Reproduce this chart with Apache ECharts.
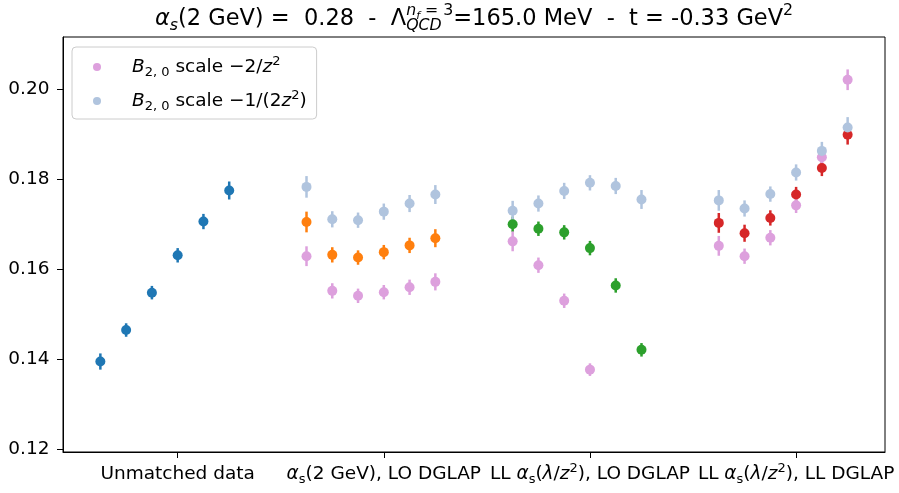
<!DOCTYPE html>
<html>
<head>
<meta charset="utf-8">
<script src="https://cdn.jsdelivr.net/npm/echarts@6/dist/echarts.min.js"></script>
<style>
html,body{margin:0;padding:0;background:#fff;}
#chart{width:899px;height:493px;}
</style>
</head>
<body>
<div id="chart"></div>
<script>
// ---------------- data ----------------
const categoryLabels = [
  'Unmatched data',
  '{i|α}{sub|s}(2 GeV), LO DGLAP',
  'LL {i|α}{sub|s}({i|λ}/{i|z}{sup|2}), LO DGLAP',
  'LL {i|α}{sub|s}({i|λ}/{i|z}{sup|2}), LL DGLAP'
];
const yTickValues = [0.12, 0.14, 0.16, 0.18, 0.20];
const pointOffsets = [-3, -2, -1, 0, 1, 2];
const groupSpacing = 8;

// main series (one per category group)
const unmatched      = [0.1395, 0.1465, 0.1548, 0.1631, 0.1706, 0.1775];
const unmatchedErr   = [0.0018, 0.0015, 0.0015, 0.0016, 0.0017, 0.0020];
const alphaLO        = [0.1705, 0.1632, 0.1626, 0.1638, 0.1653, 0.1669];
const alphaLOErr     = [0.0023, 0.0017, 0.0016, 0.0016, 0.0017, 0.0020];
const llLO           = [0.1700, 0.1690, 0.1682, 0.1647, 0.1564, 0.1421];
const llLOErr        = [0.0017, 0.0016, 0.0016, 0.0016, 0.0016, 0.0015];
const llLL           = [0.1703, 0.1680, 0.1714, 0.1766, 0.1825, 0.1899];
const llLLErr        = [0.0022, 0.0019, 0.0017, 0.0017, 0.0018, 0.0022];

// B_{2,0} scale -2/z^2
const scale2AlphaLO    = [0.1629, 0.1552, 0.1541, 0.1549, 0.1560, 0.1572];
const scale2AlphaLOErr = [0.0022, 0.0017, 0.0016, 0.0016, 0.0017, 0.0019];
const scale2LLLO       = [0.1662, 0.1609, 0.1530, 0.1377, null, null];
const scale2LLLOErr    = [0.0022, 0.0017, 0.0016, 0.0014, null, null];
const scale2LLLL       = [0.1652, 0.1629, 0.1670, 0.1742, 0.1849, 0.2021];
const scale2LLLLErr    = [0.0022, 0.0017, 0.0017, 0.0017, 0.0018, 0.0023];

// B_{2,0} scale -1/(2z^2)
const scaleHalfAlphaLO    = [0.1783, 0.1711, 0.1709, 0.1728, 0.1746, 0.1766];
const scaleHalfAlphaLOErr = [0.0024, 0.0018, 0.0017, 0.0018, 0.0019, 0.0021];
const scaleHalfLLLO       = [0.1730, 0.1746, 0.1774, 0.1792, 0.1785, 0.1755];
const scaleHalfLLLOErr    = [0.0022, 0.0018, 0.0018, 0.0017, 0.0018, 0.0021];
const scaleHalfLLLL       = [0.1753, 0.1735, 0.1767, 0.1815, 0.1863, 0.1915];
const scaleHalfLLLLErr    = [0.0023, 0.0018, 0.0017, 0.0018, 0.0020, 0.0023];

const legendNames = ['B20 scale -2/z^2', 'B20 scale -1/(2z^2)'];
const legendLabels = [
  '{gap| }{i|B}{sub|2, 0} scale −2/{i|z}{sup|2}',
  '{gap| }{i|B}{sub|2, 0} scale −1/(2{i|z}{sup|2})'
];

// ---------------- build ----------------
const FONT = '"DejaVu Sans"';
const TICK_FS = 18.5;

function points(group, vals, errs) {
  const out = [];
  vals.forEach((v, i) => {
    if (v === null || v === undefined) return;
    out.push({ x: group * groupSpacing + pointOffsets[i], v: v, e: errs[i] });
  });
  return out;
}

const series = [];
function addSeries(name, color, pts) {
  series.push({
    type: 'custom',
    name: name + ' err',
    silent: true,
    renderItem: function (params, api) {
      const x = api.value(0), lo = api.value(1), hi = api.value(2);
      const a = api.coord([x, lo]), b = api.coord([x, hi]);
      return {
        type: 'line',
        shape: { x1: a[0], y1: a[1], x2: b[0], y2: b[1] },
        style: { stroke: color, lineWidth: 2.5 }
      };
    },
    encode: { x: 0, y: [1, 2] },
    data: pts.map(p => [p.x, p.v - p.e, p.v + p.e])
  });
  series.push({
    type: 'scatter',
    name: name,
    symbol: 'circle',
    symbolSize: 10,
    silent: true,
    itemStyle: { color: color, opacity: 1 },
    data: pts.map(p => [p.x, p.v])
  });
}

addSeries('Unmatched data', '#1f77b4', points(0, unmatched, unmatchedErr));
addSeries('alpha LO', '#ff7f0e', points(1, alphaLO, alphaLOErr));
addSeries('LL LO', '#2ca02c', points(2, llLO, llLOErr));
addSeries('LL LL', '#d62728', points(3, llLL, llLLErr));
addSeries(legendNames[0], '#dda0dd',
  points(1, scale2AlphaLO, scale2AlphaLOErr)
    .concat(points(2, scale2LLLO, scale2LLLOErr))
    .concat(points(3, scale2LLLL, scale2LLLLErr)));
addSeries(legendNames[1], '#b0c4de',
  points(1, scaleHalfAlphaLO, scaleHalfAlphaLOErr)
    .concat(points(2, scaleHalfLLLO, scaleHalfLLLOErr))
    .concat(points(3, scaleHalfLLLL, scaleHalfLLLLErr)));

const xTickValues = categoryLabels.map((_, g) => g * groupSpacing);

// ---------------- title layout (mathtext-like) ----------------
const TF = 22.5, TS = TF * 0.7, TSS = TS * 0.7;
const titleSizes = { main: TF, sub: TS, sup: TS, supsub: TSS };
const titleBase = 26.5;
const titleBaselines = {
  main: titleBase,
  sub: titleBase + 0.2 * TF,
  sup: titleBase - 0.45 * TF,
  supsub: titleBase - 0.45 * TF + 0.2 * TS
};
const titleRuns = [
  { t: 'α', it: true, lvl: 'main' },
  { t: 's', it: true, lvl: 'sub' },
  { t: '(2 GeV) =  0.28  -  ', lvl: 'main' },
  { t: 'Λ', lvl: 'main' },
  { stack: true,
    sup: [{ t: 'n', it: true, lvl: 'sup' }, { t: 'f', it: true, lvl: 'supsub' }, { t: ' = 3', lvl: 'sup' }],
    sub: [{ t: 'QCD', it: true, lvl: 'sub' }] },
  { t: '=165.0 MeV  -  t = -0.33 GeV', lvl: 'main' },
  { t: '2', lvl: 'sup' }
];
const mctx = document.createElement('canvas').getContext('2d');
function fontOf(r) { return (r.it ? 'italic ' : '') + titleSizes[r.lvl] + 'px ' + FONT; }
function measure(r) { mctx.font = fontOf(r); return mctx.measureText(r.t).width; }
function listWidth(list) { return list.reduce((s, r) => s + measure(r), 0); }
function runWidth(r) { return r.stack ? Math.max(listWidth(r.sup), listWidth(r.sub)) : measure(r); }
const titleTotal = titleRuns.reduce((s, r) => s + runWidth(r), 0);
const axesCenter = (63 + 885) / 2;
const graphics = [];
function placeText(r, x) {
  graphics.push({
    type: 'text', x: x, y: titleBaselines[r.lvl] - 0.346 * titleSizes[r.lvl],
    silent: true,
    style: { text: r.t, font: fontOf(r), fill: '#000', align: 'left', verticalAlign: 'middle' }
  });
}
let tx = axesCenter - titleTotal / 2;
titleRuns.forEach(r => {
  if (r.stack) {
    let sx = tx; r.sup.forEach(q => { placeText(q, sx); sx += measure(q); });
    let bx = tx; r.sub.forEach(q => { placeText(q, bx); bx += measure(q); });
  } else {
    placeText(r, tx);
  }
  tx += runWidth(r);
});

// ---------------- chart ----------------
const richStyles = {
  i: { fontFamily: FONT, fontSize: TICK_FS, fontStyle: 'italic', color: '#000', lineHeight: 24 },
  sub: { fontFamily: FONT, fontSize: 13, color: '#000', verticalAlign: 'bottom', lineHeight: 12 },
  sup: { fontFamily: FONT, fontSize: 13, color: '#000', verticalAlign: 'top', lineHeight: 14 },
  gap: { width: 26, fontSize: TICK_FS, lineHeight: 24 }
};

const chart = echarts.init(document.getElementById('chart'), null, { renderer: 'canvas' });
chart.setOption({
  animation: false,
  backgroundColor: '#ffffff',
  grid: {
    left: 63, right: 14, top: 37, bottom: 41,
    containLabel: false, outerBoundsMode: 'none',
    show: true, borderColor: '#000', borderWidth: 1, backgroundColor: 'transparent'
  },
  xAxis: {
    type: 'value', min: -4.45, max: 27.45,
    axisLine: { show: true, onZero: false, lineStyle: { color: '#000', width: 1 } },
    axisTick: { show: true, customValues: xTickValues, length: 6, inside: false, lineStyle: { color: '#000', width: 1 } },
    axisLabel: {
      show: true, customValues: xTickValues, margin: 10, hideOverlap: false,
      fontFamily: FONT, fontSize: TICK_FS, color: '#000', lineHeight: 24,
      formatter: function (v) { const k = xTickValues.indexOf(v); return k >= 0 ? categoryLabels[k] : ''; },
      rich: richStyles
    },
    splitLine: { show: false }
  },
  yAxis: {
    type: 'value', min: 0.1194, max: 0.2116,
    axisLine: { show: true, onZero: false, lineStyle: { color: '#000', width: 1 } },
    axisTick: { show: true, customValues: yTickValues, length: 6, inside: false, lineStyle: { color: '#000', width: 1 } },
    axisLabel: {
      show: true, customValues: yTickValues, margin: 13.5,
      fontFamily: FONT, fontSize: TICK_FS, color: '#000',
      formatter: function (v) { return v.toFixed(2); }
    },
    splitLine: { show: false }
  },
  legend: {
    show: true, orient: 'vertical', left: 72, top: 47,
    data: legendNames, selectedMode: false,
    icon: 'circle', itemWidth: 8, itemHeight: 8, itemGap: 10,
    padding: [8, 10, 6, 21],
    backgroundColor: 'rgba(255,255,255,0.8)', borderColor: '#cccccc', borderWidth: 1, borderRadius: 4,
    formatter: function (name) { return legendLabels[legendNames.indexOf(name)]; },
    textStyle: { fontFamily: FONT, fontSize: TICK_FS, color: '#000', lineHeight: 24, rich: richStyles }
  },
  graphic: { elements: graphics },
  series: series
});
</script>
</body>
</html>
